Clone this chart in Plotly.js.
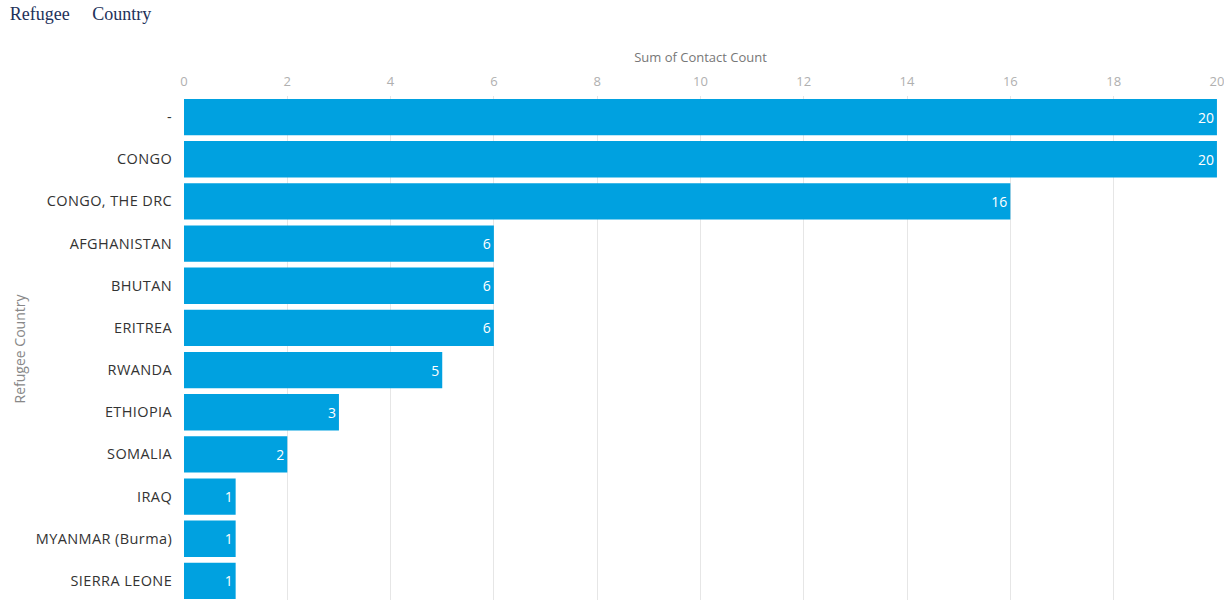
<!DOCTYPE html>
<html><head><meta charset="utf-8">
<script src="https://cdn.plot.ly/plotly-3.0.1.min.js"></script>
<style>html,body{margin:0;padding:0;overflow:hidden;background:#fff;}#chart{width:1224px;height:606px;}
.ytick text{letter-spacing:0.4px;}</style>
</head><body>
<div id="chart"></div>
<script>
const countries = ["-", "CONGO", "CONGO, THE DRC", "AFGHANISTAN", "BHUTAN", "ERITREA", "RWANDA", "ETHIOPIA", "SOMALIA", "IRAQ", "MYANMAR (Burma)", "SIERRA LEONE"];
const counts = [20, 20, 16, 6, 6, 6, 5, 3, 2, 1, 1, 1];
const tickVals = [0, 2, 4, 6, 8, 10, 12, 14, 16, 18, 20];

const trace = {
  type: 'bar', orientation: 'h',
  x: counts, y: countries,
  marker: {color: '#00A1E0'},
  text: counts.map(String), textposition: 'inside', insidetextanchor: 'end',
  textfont: {color: '#ffffff', size: 14, family: '"Open Sans", sans-serif'},
  hoverinfo: 'x+y', cliponaxis: false
};
const layout = {
  width: 1224, height: 606,
  margin: {l: 184, r: 7, t: 96, b: 4},
  paper_bgcolor: '#fff', plot_bgcolor: '#fff',
  bargap: 0.14,
  showlegend: false,
  font: {family: '"Open Sans", sans-serif', color: '#333'},
  title: {text: 'Refugee&nbsp;&nbsp;&nbsp;&nbsp;&nbsp;Country', x: 0.008, xanchor: 'left', y: 0.988, yanchor: 'top',
    font: {family: '"Liberation Serif", serif', size: 18, color: '#22315a'}},
  xaxis: {side: 'top', range: [0, 20.001], tickvals: tickVals, ticktext: tickVals.map(String),
    ticklabeloverflow: 'allow',
    showgrid: true, gridcolor: '#e6e6e6', zeroline: false, showline: false,
    tickfont: {size: 13, color: '#b0b0b0'}, ticks: 'outside', ticklen: 4, tickcolor: 'rgba(0,0,0,0)',
    title: {text: 'Sum of Contact Count', font: {size: 13, color: '#777'}, standoff: 6}},
  yaxis: {autorange: 'reversed', type: 'category', showgrid: false, zeroline: false,
    tickfont: {size: 14.5, color: '#333'}, ticks: 'outside', ticklen: 8, tickcolor: 'rgba(0,0,0,0)',
    title: {text: 'Refugee Country', font: {size: 14, color: '#888'}, standoff: 6}}
};
Plotly.newPlot('chart', [trace], layout, {displayModeBar: false, staticPlot: true});
</script>
</body></html>
